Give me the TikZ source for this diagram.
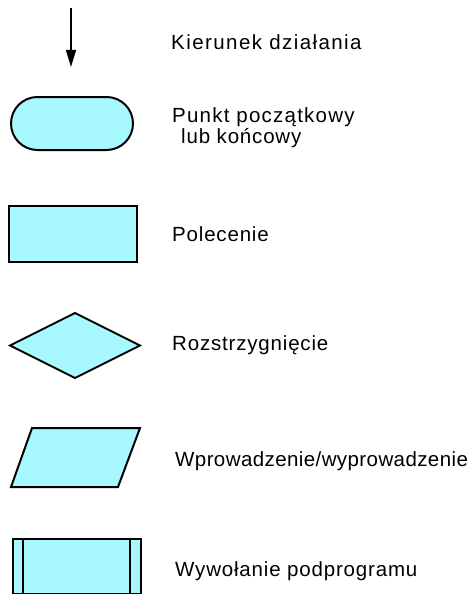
\documentclass[tikz,border=0pt]{standalone}
\usepackage{fontspec}
\setmainfont{Liberation Sans}[LetterSpace=4]
\usetikzlibrary{arrows.meta,shapes.misc,shapes.geometric}
\definecolor{symfill}{RGB}{168,248,255}
\begin{document}
\begin{tikzpicture}[x=1pt,y=-1pt,
  sym/.style={draw=black,fill=symfill,line width=2pt,inner sep=0pt,outer sep=0pt},
  label/.style={anchor=base west,inner sep=0pt,font=\fontsize{20.5}{18.3}\selectfont}]
  \useasboundingbox (0,0) rectangle (473,594);
  % flow direction
  \coordinate (a1) at (71,8);
  \coordinate (a2) at (71,67);
  \draw[line width=1.4pt,-{Triangle[length=17pt,width=10pt]}] (a1) -- (a2);
  \node[label] (t1) at (171,49) {\addfontfeature{LetterSpace=7}Kierunek działania};
  % terminator (the base anchor sits on the last line)
  \node[sym,rounded rectangle,minimum width=122pt,minimum height=53pt] (term) at (72,123.5) {};
  \node[label,align=left] (t2) at (172,143.3)
    {\addfontfeature{LetterSpace=6}Punkt początkowy\\\hspace*{9pt}lub końcowy};
  % process
  \node[sym,rectangle,minimum width=128pt,minimum height=56pt] (proc) at (73,234) {};
  \node[label] (t3) at (172,241.7) {Polecenie};
  % decision
  \node[sym,diamond,minimum width=130pt,minimum height=65pt] (dec) at (75,345.5) {};
  \node[label] (t4) at (172,350) {Rozstrzygnięcie};
  % input / output
  \draw[sym,line join=miter] (32,428) -- (140,428) -- (118,487) -- (11,487) -- cycle;
  \node[label] (t5) at (175,466.7) {\addfontfeature{LetterSpace=2}Wprowadzenie/wyprowadzenie};
  % subroutine call
  \node[sym,rectangle,minimum width=128pt,minimum height=55pt] (sub) at (77,566.5) {};
  \draw[line width=1.6pt] (23,539) -- (23,594) (130,539) -- (130,594);
  \node[label] (t6) at (175,576.7) {Wywołanie podprogramu};
\end{tikzpicture}
\end{document}
